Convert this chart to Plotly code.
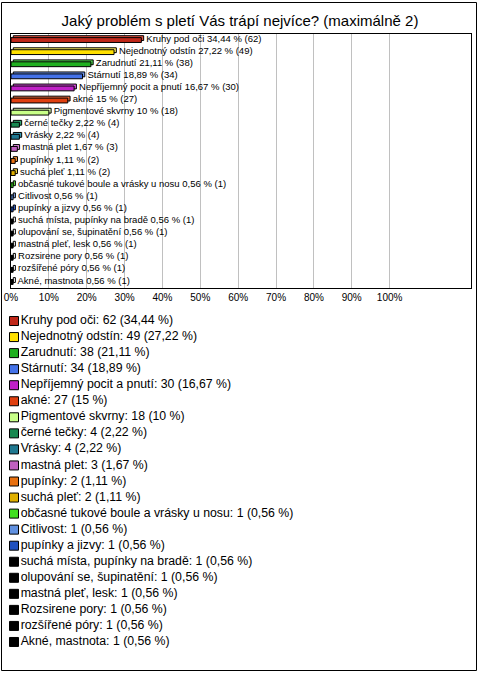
import plotly.graph_objects as go

title = "Jaký problém s pletí Vás trápí nejvíce? (maximálně 2)"
categories = [
    "Kruhy pod oči", "Nejednotný odstín", "Zarudnutí", "Stárnutí",
    "Nepříjemný pocit a pnutí", "akné", "Pigmentové skvrny", "černé tečky",
    "Vrásky", "mastná plet", "pupínky", "suchá pleť",
    "občasné tukové boule a vrásky u nosu", "Citlivost", "pupínky a jizvy",
    "suchá místa, pupínky na bradě", "olupování se, šupinatění",
    "mastná pleť, lesk", "Rozsirene pory", "rozšířené póry", "Akné, mastnota",
]
counts = [62, 49, 38, 34, 30, 27, 18, 4, 4, 3, 2, 2, 1, 1, 1, 1, 1, 1, 1, 1, 1]
percents = [34.44, 27.22, 21.11, 18.89, 16.67, 15, 10, 2.22, 2.22, 1.67, 1.11, 1.11,
            0.56, 0.56, 0.56, 0.56, 0.56, 0.56, 0.56, 0.56, 0.56]
colors = ["#C0281A", "#FFE000", "#1FB01F", "#4472E8", "#C020C8", "#E04010",
          "#C8FF88", "#188850", "#1F7890", "#C060C0", "#E87010", "#E0B000",
          "#40E020", "#6090E0", "#2050C0", "#000000", "#000000", "#000000",
          "#000000", "#000000", "#000000"]
shade_colors = ["#E05040", "#FFF060", "#50D050", "#7098F0", "#E050E8", "#F06838",
                "#E0FFB0", "#30A870", "#3898B0", "#D888D8", "#F89840", "#F0D040",
                "#70F050", "#90B0F0", "#4070E0", "#FFFFFF", "#FFFFFF", "#FFFFFF",
                "#FFFFFF", "#FFFFFF", "#FFFFFF"]
tick_values = [0, 10, 20, 30, 40, 50, 60, 70, 80, 90, 100]
tick_labels = ["0%", "10%", "20%", "30%", "40%", "50%", "60%", "70%", "80%", "90%", "100%"]

def fmt(p):
    s = ("%.2f" % p).rstrip("0").rstrip(".")
    return s.replace(".", ",")

bar_text = [f" {c} {fmt(p)} % ({n})" for c, p, n in zip(categories, percents, counts)]
legend_text = [f"{c}: {n} ({fmt(p)} %)" for c, p, n in zip(categories, percents, counts)]

FONT = "Liberation Sans, Arial, sans-serif"
W, H = 480, 673
ML, MR, MT, MB = 11, 9, 34, 2
pw, ph = W - ML - MR, H - MT - MB
n = len(categories)

def py(p):
    return (H - MB - p) / ph

def px(p):
    return (p - ML) / pw

BW = 0.4
fig = go.Figure()
# depth (3D top/side) of each bar
fig.add_trace(go.Bar(
    x=percents, y=categories, orientation="h", base=[0.6] * n,
    marker=dict(color=shade_colors, line=dict(color="#000000", width=1)),
    width=BW, offset=-BW / 2 - 0.16,
    text=bar_text, textposition="outside", cliponaxis=False, constraintext="none",
    textfont=dict(size=9.5, color="#000000", family=FONT),
    showlegend=False, hoverinfo="skip",
    xaxis="x", yaxis="y",
))
fig.add_trace(go.Bar(
    x=percents, y=categories, orientation="h",
    marker=dict(color=colors, line=dict(color="#000000", width=1)),
    width=BW, offset=-BW / 2,
    showlegend=False, hoverinfo="skip",
    xaxis="x", yaxis="y",
))
fig.add_trace(go.Scatter(
    x=[0] * n, y=list(range(n)),
    mode="markers+text",
    marker=dict(symbol="square", size=9, color=colors, line=dict(color="#000000", width=1)),
    text=legend_text, textposition="middle right",
    textfont=dict(size=12.3, color="#000000", family=FONT),
    showlegend=False, hoverinfo="skip",
    xaxis="x2", yaxis="y2", cliponaxis=False,
))

fig.update_layout(
    width=W, height=H,
    margin=dict(l=ML, r=MR, t=MT, b=MB),
    paper_bgcolor="white", plot_bgcolor="white",
    font=dict(family=FONT, color="#000000"),
    barmode="overlay",
    title=dict(text=title, x=0.5, xanchor="center", y=1 - 21 / H, yanchor="middle",
               font=dict(size=15, family=FONT, color="#000000")),
    xaxis=dict(range=[0, 121.5], tickvals=tick_values, ticktext=tick_labels,
               showgrid=True, gridcolor="#C0C0C0", gridwidth=1, zeroline=False,
               showline=True, linecolor="#000000", mirror=True, linewidth=1,
               ticks="", tickfont=dict(size=10, family=FONT), anchor="y"),
    yaxis=dict(domain=[py(288), 1], type="category", autorange="reversed",
               showticklabels=False, showgrid=False, zeroline=False,
               showline=True, linecolor="#000000", mirror=True, linewidth=1,
               ticks="", anchor="x"),
    xaxis2=dict(range=[-3, pw - 3], visible=False, anchor="y2", domain=[0, 1]),
    yaxis2=dict(range=[n - 0.5, -0.5], visible=False, anchor="x2",
                domain=[py(650), py(313)]),
    shapes=[dict(type="rect", xref="paper", yref="paper",
                 x0=px(1.5), x1=px(476.5), y0=py(670.5), y1=py(2.5),
                 line=dict(color="#000000", width=1), fillcolor="rgba(0,0,0,0)")],
)

fig.write_html("out.html", config={"displayModeBar": False},
               post_script="document.body.style.margin='0';document.body.style.overflow='hidden';")
